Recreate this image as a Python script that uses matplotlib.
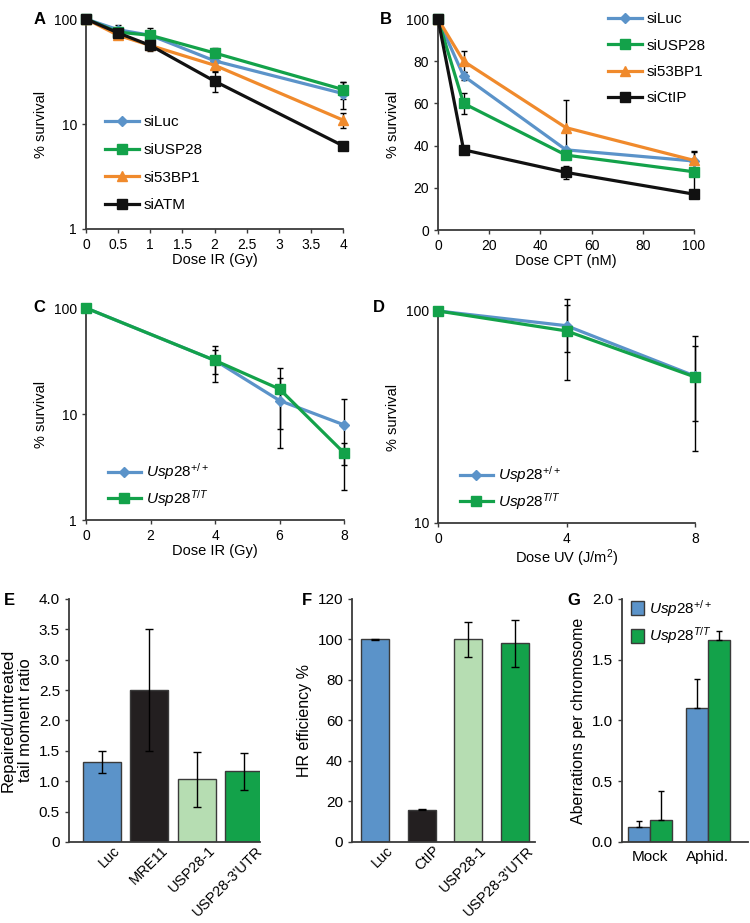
import numpy as np
import matplotlib
matplotlib.use('Agg')
import matplotlib.pyplot as plt
from matplotlib.ticker import NullFormatter
from matplotlib.transforms import ScaledTranslation

plt.rcParams['font.family'] = ['Liberation Sans', 'DejaVu Sans']
plt.rcParams['mathtext.fontset'] = 'custom'
plt.rcParams['mathtext.rm'] = 'Liberation Sans'
plt.rcParams['mathtext.it'] = 'Liberation Sans:italic'

BLUE = '#5b93c9'
GREEN = '#13a24a'
ORANGE = '#f08a2c'
BLACK = '#111111'
LIGHTGREEN = '#b6ddb2'
AXC = '#3a3a3a'

# ---- data ----
# A: IR survival, siRNA
dose_a = [0, 0.5, 1, 2, 4]
a_luc = [100, 79, 70, 40, 19.5]
a_luc_err = [0, 8, 0, 0, 5.5]
a_usp28 = [100, 75, 70, 47.5, 21.3]
a_usp28_err = [0, 0, 12, 5, 4]
a_53bp1 = [100, 70, 56, 36.3, 10.9]
a_53bp1_err = [0, 0, 0, 4, 1.7]
a_atm = [100, 73.7, 56, 25.6, 6.2]
a_atm_err = [0, 0, 6, 5.5, 0.6]

# B: CPT survival
dose_b = [0, 10, 50, 100]
b_luc = [100, 73, 38, 32.7]
b_luc_err = [0, 2, 0, 0]
b_usp28 = [100, 60, 35.5, 27.6]
b_usp28_err = [0, 5, 0, 10]
b_53bp1 = [100, 80, 48.5, 33]
b_53bp1_err = [0, 5, 13, 4]
b_ctip = [100, 38, 27.3, 17]
b_ctip_err = [0, 0, 3, 0]

# C: IR survival, mice cells
dose_c = [0, 4, 6, 8]
c_wt = [100, 32, 13.4, 7.9]
c_wt_err = [0, 12, 8.6, 6]
c_tt = [100, 32, 17.2, 4.3]
c_tt_err = [0, 8, 10, 1]

# D: UV survival
dose_d = [0, 4, 8]
d_wt = [100, 85.2, 49.3]
d_wt_err = [0, 21, 19]
d_tt = [100, 80.5, 48.8]
d_tt_err = [0, 33, 27]

# E: comet assay
e_labels = ['Luc', 'MRE11', 'USP28-1', "USP28-3'UTR"]
e_vals = [1.31, 2.5, 1.03, 1.16]
e_err = [0.18, 1.0, 0.45, 0.3]

# F: HR efficiency
f_labels = ['Luc', 'CtIP', 'USP28-1', "USP28-3'UTR"]
f_vals = [100, 16, 100, 98]
f_err = [0.3, 0.3, 8.5, 11.5]

# G: aberrations
g_groups = ['Mock', 'Aphid.']
g_wt = [0.12, 1.10]
g_wt_err = [0.05, 0.24]
g_tt = [0.18, 1.66]
g_tt_err = [0.24, 0.08]

bar_colors = [BLUE, '#231f20', LIGHTGREEN, GREEN]
wt_label = r'$\mathit{Usp28}^{\mathit{+/+}}$'
tt_label = r'$\mathit{Usp28}^{\mathit{T/T}}$'

fig = plt.figure(figsize=(7.5, 9.23), dpi=100)


def style(ax, fs=10):
    for s in ['top', 'right']:
        ax.spines[s].set_visible(False)
    for s in ['left', 'bottom']:
        ax.spines[s].set_color(AXC)
        ax.spines[s].set_linewidth(1.3)
    ax.tick_params(axis='both', colors=AXC, labelcolor='black',
                   labelsize=fs, length=3, width=1, direction='out')
    ax.tick_params(which='minor', length=0)
    ax.yaxis.set_minor_formatter(NullFormatter())


def curve(ax, x, y, err, color, marker, label, ms=7):
    ax.errorbar(x, y, yerr=err, fmt='none', ecolor='black', elinewidth=1,
                capsize=2, capthick=1, zorder=2, clip_on=False)
    ax.plot(x, y, color=color, lw=2.3, marker=marker, ms=ms,
            label=label, zorder=3, clip_on=False)


def leg(ax, loc, bbox, sp=0.9):
    ax.legend(loc=loc, bbox_to_anchor=bbox, frameon=False, fontsize=11,
              handlelength=2.2, handletextpad=0.3, labelspacing=sp,
              borderaxespad=0)


def rot_labels(ax, labels):
    ax.set_xticks(np.arange(len(labels)))
    ax.set_xticklabels(labels, rotation=45, ha='right', va='top',
                       rotation_mode='anchor', fontsize=10.5)
    ax.tick_params(axis='x', length=0, pad=1)
    shift = ScaledTranslation(8 / 72, 0, fig.dpi_scale_trans)
    for t in ax.get_xticklabels():
        t.set_transform(t.get_transform() + shift)


# ---- A ----
ax = fig.add_axes([0.1147, 0.7519, 0.3427, 0.2275])
curve(ax, dose_a, a_luc, a_luc_err, BLUE, 'D', 'siLuc', ms=5.5)
curve(ax, dose_a, a_usp28, a_usp28_err, GREEN, 's', 'siUSP28')
curve(ax, dose_a, a_53bp1, a_53bp1_err, ORANGE, '^', 'si53BP1')
curve(ax, dose_a, a_atm, a_atm_err, BLACK, 's', 'siATM')
ax.set_yscale('log')
ax.set_ylim(1, 100)
ax.set_xlim(0, 4)
ax.set_yticks([1, 10, 100])
ax.set_yticklabels(['1', '10', '100'])
ax.set_xticks([0, 0.5, 1, 1.5, 2, 2.5, 3, 3.5, 4])
ax.set_xticklabels(['0', '0.5', '1', '1.5', '2', '2.5', '3', '3.5', '4'])
style(ax)
ax.set_xlabel('Dose IR (Gy)', fontsize=10.5, labelpad=1)
ax.set_ylabel('% survival', fontsize=10.5)
leg(ax, 'lower left', (0.05, 0.05))

# ---- B ----
ax = fig.add_axes([0.584, 0.7508, 0.3413, 0.2286])
curve(ax, dose_b, b_luc, b_luc_err, BLUE, 'D', 'siLuc', ms=5.5)
curve(ax, dose_b, b_usp28, b_usp28_err, GREEN, 's', 'siUSP28')
curve(ax, dose_b, b_53bp1, b_53bp1_err, ORANGE, '^', 'si53BP1')
curve(ax, dose_b, b_ctip, b_ctip_err, BLACK, 's', 'siCtIP')
ax.set_ylim(0, 100)
ax.set_xlim(0, 100)
ax.set_yticks([0, 20, 40, 60, 80, 100])
ax.set_xticks([0, 20, 40, 60, 80, 100])
style(ax)
ax.set_xlabel('Dose CPT (nM)', fontsize=10.5, labelpad=1)
ax.set_ylabel('% survival', fontsize=10.5)
leg(ax, 'upper right', (1.07, 1.06), sp=0.8)

# ---- C ----
ax = fig.add_axes([0.1147, 0.4366, 0.344, 0.2297])
curve(ax, dose_c, c_wt, c_wt_err, BLUE, 'D', wt_label, ms=5.5)
curve(ax, dose_c, c_tt, c_tt_err, GREEN, 's', tt_label)
ax.set_yscale('log')
ax.set_ylim(1, 100)
ax.set_xlim(0, 8)
ax.set_yticks([1, 10, 100])
ax.set_yticklabels(['1', '10', '100'])
ax.set_xticks([0, 2, 4, 6, 8])
style(ax)
ax.set_xlabel('Dose IR (Gy)', fontsize=10.5, labelpad=1)
ax.set_ylabel('% survival', fontsize=10.5)
leg(ax, 'lower left', (0.06, 0.025), sp=0.35)

# ---- D ----
ax = fig.add_axes([0.584, 0.4334, 0.3427, 0.2297])
curve(ax, dose_d, d_wt, d_wt_err, BLUE, 'D', wt_label, ms=5.5)
curve(ax, dose_d, d_tt, d_tt_err, GREEN, 's', tt_label)
ax.set_yscale('log')
ax.set_ylim(10, 100)
ax.set_xlim(0, 8)
ax.set_yticks([10, 100])
ax.set_yticklabels(['10', '100'])
ax.set_xticks([0, 4, 8])
style(ax)
ax.set_xlabel('Dose UV (J/m$^2$)', fontsize=10.5, labelpad=1)
ax.set_ylabel('% survival', fontsize=10.5)
leg(ax, 'lower left', (0.06, 0.025), sp=0.35)

# ---- E ----
ax = fig.add_axes([0.092, 0.0878, 0.2547, 0.2633])
xe = np.arange(len(e_labels))
ax.bar(xe, e_vals, width=0.8, color=bar_colors, edgecolor=AXC, lw=1,
       yerr=e_err, error_kw=dict(ecolor='black', elinewidth=1, capsize=3,
                                 capthick=1))
ax.set_xlim(-0.7, 3.34)
ax.set_ylim(0, 4.0)
ax.set_yticks([0, 0.5, 1, 1.5, 2, 2.5, 3, 3.5, 4])
ax.set_yticklabels(['0', '0.5', '1.0', '1.5', '2.0', '2.5', '3.0', '3.5', '4.0'])
style(ax, fs=11)
rot_labels(ax, e_labels)
ax.set_ylabel('Repaired/untreated\ntail moment ratio', fontsize=12,
              linespacing=1.2)

# ---- F ----
ax = fig.add_axes([0.4693, 0.0878, 0.244, 0.2633])
xf = np.arange(len(f_labels))
ax.bar(xf, f_vals, width=0.6, color=bar_colors, edgecolor=AXC, lw=1,
       yerr=f_err, error_kw=dict(ecolor='black', elinewidth=1, capsize=3,
                                 capthick=1))
ax.set_xlim(-0.49, 3.43)
ax.set_ylim(0, 120)
ax.set_yticks([0, 20, 40, 60, 80, 100, 120])
style(ax, fs=11)
rot_labels(ax, f_labels)
ax.set_ylabel('HR efficiency %', fontsize=11.5)

# ---- G ----
ax = fig.add_axes([0.8293, 0.0878, 0.168, 0.2633])
xg = np.arange(len(g_groups))
w = 0.38
ax.bar(xg - w / 2, g_wt, width=w, color=BLUE, edgecolor=AXC, lw=1,
       label=wt_label, yerr=[[0, 0], g_wt_err],
       error_kw=dict(ecolor='black', elinewidth=1, capsize=2.5, capthick=1))
ax.bar(xg + w / 2, g_tt, width=w, color=GREEN, edgecolor=AXC, lw=1,
       label=tt_label, yerr=[[0, 0], g_tt_err],
       error_kw=dict(ecolor='black', elinewidth=1, capsize=2.5, capthick=1))
ax.set_xlim(-0.48, 1.69)
ax.set_ylim(0, 2.0)
ax.set_yticks([0, 0.5, 1.0, 1.5, 2.0])
ax.set_yticklabels(['0.0', '0.5', '1.0', '1.5', '2.0'])
style(ax, fs=11)
ax.set_xticks(xg)
ax.set_xticklabels(g_groups)
ax.tick_params(axis='x', length=0, pad=6)
ax.set_ylabel('Aberrations per chromosome', fontsize=11.5)
ax.legend(loc='upper left', bbox_to_anchor=(0.02, 1.03), frameon=False,
          fontsize=11, handlelength=0.9, handleheight=1.1, handletextpad=0.3,
          labelspacing=0.45, borderaxespad=0)

# panel letters
for lab, x, y in [('A', 0.045, 0.987), ('B', 0.507, 0.987),
                  ('C', 0.045, 0.675), ('D', 0.497, 0.675),
                  ('E', 0.005, 0.357), ('F', 0.402, 0.357),
                  ('G', 0.757, 0.357)]:
    fig.text(x, y, lab, fontsize=12, fontweight='bold', va='top')

fig.savefig('out.png', dpi=100)
